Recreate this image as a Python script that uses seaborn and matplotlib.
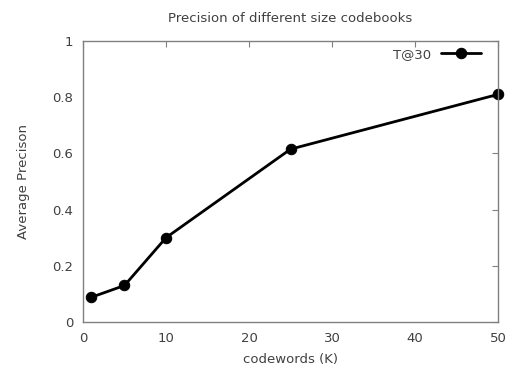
import pandas as pd
import matplotlib
matplotlib.use("Agg")
import matplotlib.pyplot as plt
import seaborn as sns

# data
codewords = [1, 5, 10, 25, 50]
precision = [0.088, 0.13, 0.30, 0.615, 0.81]
series_name = "T@30"

df = pd.DataFrame({"codewords": codewords, "precision": precision, "series": series_name})

sns.set_style("white")
plt.rcParams['font.family'] = ['DejaVu Sans']

fig = plt.figure(figsize=(5.06, 3.65), dpi=100)
ax = fig.add_axes([83 / 506, 1 - 322 / 365, (498 - 83) / 506, (322 - 41) / 365])

sns.lineplot(data=df, x="codewords", y="precision", hue="series", palette=["black"],
             marker="o", markersize=7.5, linewidth=2, markeredgecolor="black", ax=ax)
for ln in ax.lines:
    ln.set_clip_on(False)

ax.set_xlim(0, 50)
ax.set_ylim(0, 1)
ax.set_xticks([0, 10, 20, 30, 40, 50])
ax.set_yticks([0, 0.2, 0.4, 0.6, 0.8, 1])
ax.set_yticklabels(["0", "0.2", "0.4", "0.6", "0.8", "1"])

for s in ax.spines.values():
    s.set_color("#808080")
    s.set_linewidth(1)
ax.tick_params(direction="in", length=4, color="#808080", labelsize=9.5, labelcolor="#404040",
               top=True, right=True, pad=7)

ax.set_xlabel("codewords (K)", fontsize=9.5, color="#404040", labelpad=6)
ax.set_ylabel("Average Precison", fontsize=9.5, color="#404040", labelpad=16)
ax.set_title("Precision of different size codebooks", fontsize=9.5, color="#404040", pad=14)

leg = ax.legend(loc="upper right", frameon=False, fontsize=9.5, markerfirst=False,
                handlelength=3, borderaxespad=0.1, bbox_to_anchor=(0.975, 1.0))
for t in leg.get_texts():
    t.set_color("#404040")

fig.savefig("out.png", dpi=100)
